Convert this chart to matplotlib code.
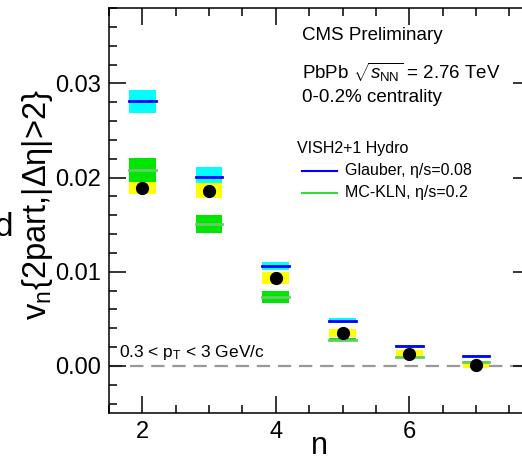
import matplotlib
matplotlib.use('Agg')
import matplotlib.pyplot as plt
from matplotlib.patches import Rectangle
from matplotlib.ticker import MultipleLocator, FormatStrFormatter
import numpy as np

plt.rcParams['font.family'] = 'Liberation Sans'
plt.rcParams['mathtext.fontset'] = 'custom'
plt.rcParams['mathtext.rm'] = 'Liberation Sans'
plt.rcParams['mathtext.it'] = 'Liberation Sans:italic'
plt.rcParams['mathtext.sf'] = 'Liberation Sans'

# harmonic order
n = [2, 3, 4, 5, 6, 7]
# CMS data and systematic half-heights
data = [0.0189, 0.0186, 0.0093, 0.0035, 0.0013, 0.0001]
data_sys = [0.0006, 0.0008, 0.00065, 0.0004, 0.00035, 0.00035]
# VISH2+1 Glauber, eta/s=0.08
glauber = [0.0281, 0.0201, 0.0106, 0.0048, 0.0021, 0.0011]
glauber_err = [0.0012, 0.0010, 0.0004, 0.00025, 0.0001, 0.0001]
# VISH2+1 MC-KLN, eta/s=0.2
mckln = [0.0208, 0.0151, 0.0073, 0.0028, 0.0009, 0.0004]
mckln_err = [0.00125, 0.00095, 0.00065, 0.0002, 0.0001, 0.0001]

W, H = 522, 462
fig = plt.figure(figsize=(W / 100, H / 100), dpi=100)
ax = fig.add_axes([109 / W, 49 / H, 421 / W, 405 / H])
ax.set_xlim(1.5, 7.81)
ax.set_ylim(-0.005, 0.038)

bw = 0.4
for xi, c, e in zip(n, glauber, glauber_err):
    ax.add_patch(Rectangle((xi - bw / 2, c - e), bw, 2 * e, color='#00ffff', lw=0, zorder=2))
for xi, c, e in zip(n, mckln, mckln_err):
    ax.add_patch(Rectangle((xi - bw / 2, c - e), bw, 2 * e, color='#00e600', lw=0, zorder=2))
for xi, c, e in zip(n, data, data_sys):
    ax.add_patch(Rectangle((xi - bw / 2, c - e), bw, 2 * e, color='#ffff00', lw=0, zorder=3))

for xi, c in zip(n, glauber):
    ax.plot([xi - bw / 2, xi + bw / 2], [c, c], color='#0000ff', lw=2, zorder=4)
for xi, c in zip(n, mckln):
    ax.plot([xi - bw / 2, xi + bw / 2], [c, c], color='#66cc66', lw=2, zorder=4)

ax.plot(n, data, 'o', color='black', ms=8.5, zorder=5)
ax.axhline(0, color='#999999', lw=1.6, ls=(0, (6, 3.5)), zorder=1)

# axes style (ROOT-like)
ax.xaxis.set_major_locator(MultipleLocator(2))
ax.xaxis.set_minor_locator(MultipleLocator(0.5))
ax.yaxis.set_major_locator(MultipleLocator(0.01))
ax.yaxis.set_minor_locator(MultipleLocator(0.002))
ax.yaxis.set_major_formatter(FormatStrFormatter('%.2f'))
ax.tick_params(which='both', direction='in', top=True, right=True, width=1.1, labelsize=17, pad=6)
ax.tick_params(which='major', length=12)
ax.tick_params(which='minor', length=6)
for s in ax.spines.values():
    s.set_linewidth(1.1)

ax.set_xlabel('n', fontsize=22, labelpad=-9)
ax.set_ylabel(r'v$_{\mathrm{n}}${2part,|Δη|>2}', fontsize=23.5)
ax.yaxis.set_label_coords(-0.128, 0.516)

ax.text(302, 35, 'CMS Preliminary', fontsize=13.5, transform=None, va='center')
ax.text(302, 72, r'PbPb $\sqrt{s_{\mathrm{NN}}}$ = 2.76 TeV', fontsize=13.5, transform=None, va='center')
ax.text(302, 97, '0-0.2% centrality', fontsize=13.5, transform=None, va='center')
ax.text(119, 352, r'0.3 < p$_{\mathrm{T}}$ < 3 GeV/c', fontsize=12.5, transform=None, va='center')

# legend drawn by hand
ax.text(297, 148, 'VISH2+1 Hydro', fontsize=11.5, transform=None, va='center')
ax.plot([302, 337], [171, 171], color='#0000ff', lw=1.5, transform=None)
ax.plot([302, 337], [193, 193], color='#33dd33', lw=1.5, transform=None)
ax.text(345, 171, 'Glauber, η/s=0.08', fontsize=11.5, transform=None, va='center')
ax.text(345, 193, 'MC-KLN, η/s=0.2', fontsize=11.5, transform=None, va='center')

# cut-off glyph at left edge
fig.text(13 / W, 1 - 227 / H, 'd', fontsize=24, ha='right', va='center')


# flip pixel y for transform=None texts
def to_disp(t):
    x, y = t.get_position()
    t.set_position((x, H - y))


for t in ax.texts:
    to_disp(t)
for ln in ax.lines[-2:]:
    xs, ys = ln.get_data()
    ln.set_data(xs, [H - y for y in ys])

fig.savefig('out.png', dpi=100)
